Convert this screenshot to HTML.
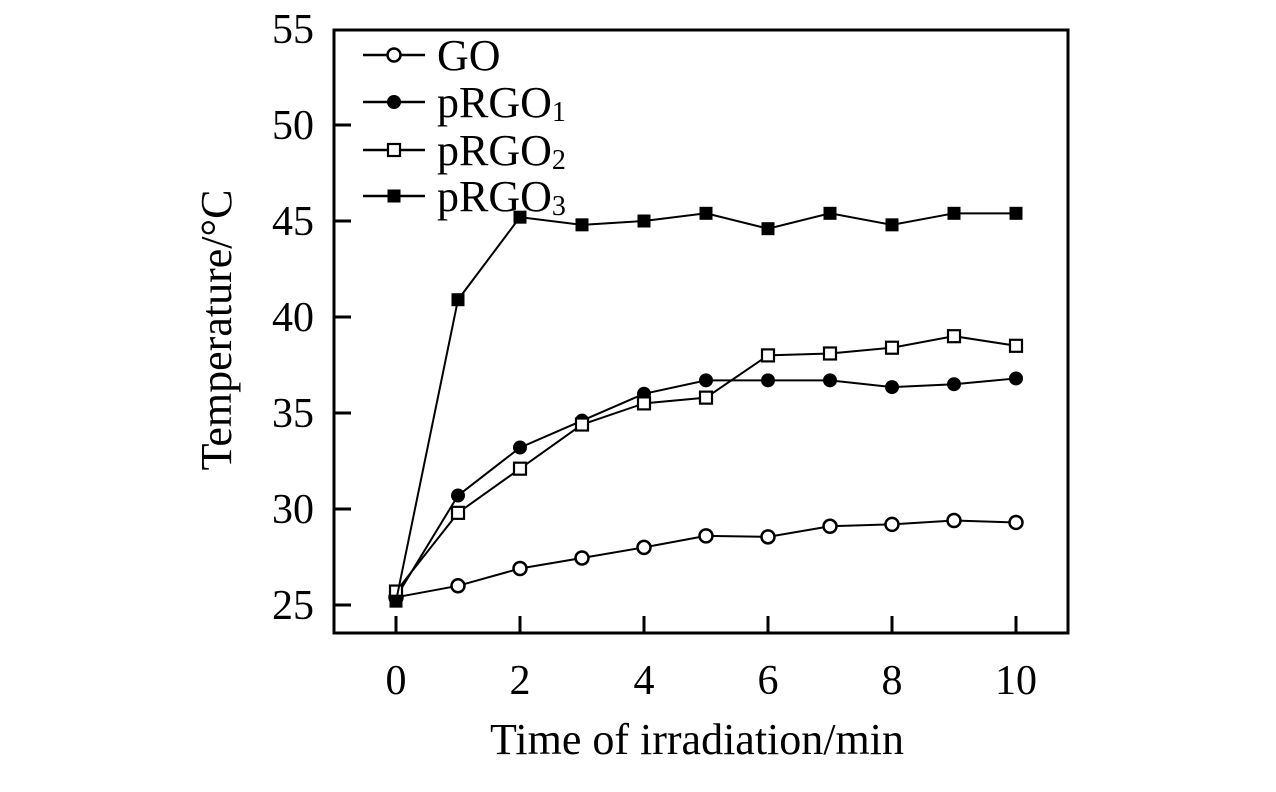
<!DOCTYPE html>
<html><head><meta charset="utf-8"><style>
body{margin:0;background:#fff;}
svg text{font-family:"Liberation Serif",serif;fill:#000;}
</style></head><body>
<svg id="chart" width="1276" height="787" viewBox="0 0 1276 787" xmlns="http://www.w3.org/2000/svg">
<rect x="334" y="30" width="734" height="603" fill="none" stroke="#000" stroke-width="3"/>
<g id="ticks"></g><g id="series"></g><g id="legend"></g>
<text x="697" y="754" font-size="44" text-anchor="middle">Time of irradiation/min</text>
<text transform="translate(231,330) rotate(-90)" font-size="44" text-anchor="middle">Temperature/°C</text>
</svg>
<script>
const xValues=[0,1,2,3,4,5,6,7,8,9,10];
const goValues=[25.4,26.0,26.9,27.45,28.0,28.6,28.55,29.1,29.2,29.4,29.3];
const prgo1Values=[25.4,30.7,33.2,34.6,36.0,36.7,36.7,36.7,36.35,36.5,36.8];
const prgo2Values=[25.7,29.8,32.1,34.4,35.5,35.8,38.0,38.1,38.4,39.0,38.5];
const prgo3Values=[25.2,40.9,45.2,44.8,45.0,45.4,44.6,45.4,44.8,45.4,45.4];
const xTicks=[0,2,4,6,8,10];
const yTicks=[25,30,35,40,45,50,55];
const seriesNames=["GO","pRGO1","pRGO2","pRGO3"];
const NS="http://www.w3.org/2000/svg";
const X=v=>396+v*62;
const Y=v=>605-(v-25)*19.2;
function mk(tag,attrs,parent){const e=document.createElementNS(NS,tag);for(const k in attrs)e.setAttribute(k,attrs[k]);parent.appendChild(e);return e;}
const tg=document.getElementById('ticks');
xTicks.forEach(t=>{
 const l=mk('line',{x1:X(t),x2:X(t),y1:633,y2:616,stroke:'#000','stroke-width':3},tg);
 
 
 const tx=mk('text',{x:X(t),y:694,'font-size':42,'text-anchor':'middle'},tg);tx.textContent=t;
 
 
});
yTicks.forEach(t=>{
 if(t<55){const l=mk('line',{x1:334,x2:351,y1:Y(t),y2:Y(t),stroke:'#000','stroke-width':3},tg);
 
 }
 const tx=mk('text',{x:314,y:Y(t)+14,'font-size':42,'text-anchor':'end'},tg);tx.textContent=t;
 
 
});
const sg=document.getElementById('series');
function marker(type,x,y,parent){
 let m;
 if(type==='oc')m=mk('circle',{cx:x,cy:y,r:6.5,fill:'#fff',stroke:'#000','stroke-width':2.5},parent);
 else if(type==='fc')m=mk('circle',{cx:x,cy:y,r:7,fill:'#000'},parent);
 else if(type==='os')m=mk('rect',{x:x-6,y:y-6,width:12,height:12,fill:'#fff',stroke:'#000','stroke-width':2.2},parent);
 else m=mk('rect',{x:x-6.5,y:y-6.5,width:13,height:13,fill:'#000'},parent);
 return m;
}
const allSeries=[goValues,prgo1Values,prgo2Values,prgo3Values];
const types=['oc','fc','os','fs'];
allSeries.forEach((vals,si)=>{
 const g=mk('g',{},sg);
 
 
 const pts=vals.map((v,i)=>X(xValues[i])+','+Y(v)).join(' ');
 const pl=mk('polyline',{points:pts,fill:'none',stroke:'#000','stroke-width':2},g);
 
 
 vals.forEach((v,i)=>{const m=marker(types[si],X(xValues[i]),Y(v),g);
  
  });
});
const lg=document.getElementById('legend');
const legendY=[55,102,150,196];
seriesNames.forEach((n,i)=>{
 const g=mk('g',{},lg);
 
 
 mk('line',{x1:363,x2:425,y1:legendY[i],y2:legendY[i],stroke:'#000','stroke-width':2.5},g);
 marker(types[i],394,legendY[i],g);
 const t=mk('text',{x:437,y:legendY[i]+15,'font-size':44},g);
 if(i===0)t.textContent='GO';
 else{t.textContent='pRGO';const s=mk('tspan',{'font-size':28,dy:4},t);s.textContent=String(i);}
});
</script>
</body></html>
